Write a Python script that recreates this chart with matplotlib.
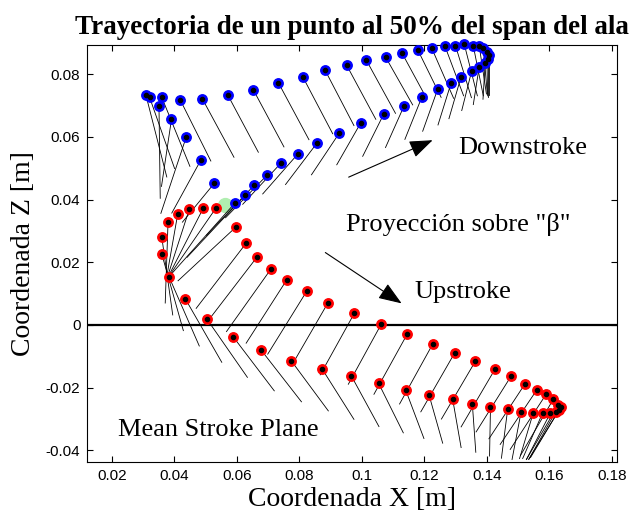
import matplotlib
matplotlib.use("Agg")
import matplotlib.pyplot as plt

# posicion del punto (borde de ataque) y extremo de la cuerda proyectada
azul_x = [0.0595, 0.0627, 0.0656, 0.0698, 0.0741, 0.0795, 0.0858, 0.0928, 0.0997, 0.1070,
          0.1136, 0.1192, 0.1243, 0.1286, 0.1318, 0.1352, 0.1376, 0.1395, 0.1405, 0.1407,
          0.1400, 0.1389, 0.1376, 0.1357, 0.1328, 0.1300, 0.1266, 0.1224, 0.1180, 0.1129,
          0.1076, 0.1015, 0.0952, 0.0883, 0.0811, 0.0733, 0.0653, 0.0571, 0.0490, 0.0419,
          0.0360, 0.0321, 0.0309, 0.0351, 0.0391, 0.0438, 0.0485, 0.0528]
azul_z = [0.0390, 0.0414, 0.0446, 0.0479, 0.0516, 0.0545, 0.0582, 0.0612, 0.0645, 0.0672,
          0.0700, 0.0726, 0.0752, 0.0772, 0.0792, 0.0811, 0.0824, 0.0835, 0.0849, 0.0861,
          0.0872, 0.0883, 0.0890, 0.0890, 0.0896, 0.0891, 0.0890, 0.0883, 0.0876, 0.0867,
          0.0855, 0.0844, 0.0828, 0.0812, 0.0792, 0.0773, 0.0750, 0.0734, 0.0721, 0.0718,
          0.0726, 0.0726, 0.0734, 0.0698, 0.0656, 0.0599, 0.0526, 0.0452]
azul_xf = [0.0383, 0.0441, 0.0503, 0.0564, 0.0619, 0.0683, 0.0756, 0.0839, 0.0920, 0.1003,
           0.1076, 0.1138, 0.1195, 0.1244, 0.1279, 0.1320, 0.1357, 0.1388, 0.1405, 0.1407,
           0.1403, 0.1402, 0.1399, 0.1389, 0.1370, 0.1351, 0.1326, 0.1294, 0.1254, 0.1209,
           0.1163, 0.1108, 0.1045, 0.0975, 0.0907, 0.0831, 0.0751, 0.0669, 0.0591, 0.0517,
           0.0450, 0.0401, 0.0376, 0.0355, 0.0359, 0.0357, 0.0392, 0.0426]
azul_zf = [0.0154, 0.0216, 0.0286, 0.0342, 0.0385, 0.0418, 0.0448, 0.0479, 0.0511, 0.0538,
           0.0566, 0.0592, 0.0618, 0.0638, 0.0658, 0.0684, 0.0703, 0.0720, 0.0727, 0.0734,
           0.0731, 0.0736, 0.0737, 0.0731, 0.0731, 0.0725, 0.0731, 0.0723, 0.0726, 0.0720,
           0.0702, 0.0675, 0.0656, 0.0636, 0.0610, 0.0591, 0.0568, 0.0551, 0.0535, 0.0523,
           0.0506, 0.0499, 0.0472, 0.0404, 0.0442, 0.0356, 0.0357, 0.0328]

rojo_x = [0.0534, 0.0493, 0.0448, 0.0411, 0.0380, 0.0360, 0.0360, 0.0383, 0.0435, 0.0505,
          0.0588, 0.0678, 0.0775, 0.0873, 0.0967, 0.1054, 0.1140, 0.1215, 0.1291, 0.1354,
          0.1412, 0.1467, 0.1510, 0.1549, 0.1579, 0.1604, 0.1621, 0.1632, 0.1637, 0.1629,
          0.1613, 0.1590, 0.1561, 0.1523, 0.1478, 0.1427, 0.1364, 0.1298, 0.1227, 0.1145,
          0.1062, 0.0976, 0.0892, 0.0824, 0.0760, 0.0709, 0.0665, 0.0630, 0.0599]
rojo_z = [0.0374, 0.0373, 0.0369, 0.0354, 0.0328, 0.0280, 0.0226, 0.0154, 0.0084, 0.0018,
          -0.0037, -0.0080, -0.0115, -0.0140, -0.0163, -0.0186, -0.0206, -0.0222, -0.0237, -0.0253,
          -0.0262, -0.0269, -0.0277, -0.0280, -0.0280, -0.0280, -0.0276, -0.0270, -0.0263, -0.0254,
          -0.0237, -0.0221, -0.0206, -0.0187, -0.0163, -0.0140, -0.0115, -0.0088, -0.0061, -0.0030,
          0.0002, 0.0037, 0.0071, 0.0108, 0.0144, 0.0178, 0.0217, 0.0261, 0.0314]
rojo_xf = [0.0383, 0.0380, 0.0377, 0.0374, 0.0371, 0.0395, 0.0429, 0.0480, 0.0552, 0.0634,
           0.0720, 0.0807, 0.0893, 0.0975, 0.1055, 0.1133, 0.1199, 0.1259, 0.1318, 0.1365,
           0.1409, 0.1447, 0.1481, 0.1505, 0.1515, 0.1527, 0.1535, 0.1540, 0.1534, 0.1527,
           0.1508, 0.1475, 0.1443, 0.1407, 0.1366, 0.1318, 0.1255, 0.1189, 0.1121, 0.1039,
           0.0957, 0.0867, 0.0777, 0.0699, 0.0630, 0.0567, 0.0510, 0.0470, 0.0412]
rojo_zf = [0.0156, 0.0153, 0.0150, 0.0144, 0.0070, 0.0032, -0.0018, -0.0067, -0.0119, -0.0167,
           -0.0210, -0.0245, -0.0274, -0.0301, -0.0324, -0.0344, -0.0362, -0.0377, -0.0391, -0.0406,
           -0.0418, -0.0425, -0.0429, -0.0426, -0.0426, -0.0429, -0.0428, -0.0423, -0.0429, -0.0429,
           -0.0416, -0.0397, -0.0381, -0.0363, -0.0341, -0.0325, -0.0300, -0.0277, -0.0252, -0.0221,
           -0.0189, -0.0159, -0.0127, -0.0093, -0.0058, -0.0021, 0.0016, 0.0053, 0.0141]

inicio_x = 0.0563
inicio_z = 0.0383

xticks = [0.02, 0.04, 0.06, 0.08, 0.1, 0.12, 0.14, 0.16, 0.18]
xtick_labels = ['0.02', '0.04', '0.06', '0.08', '0.1', '0.12', '0.14', '0.16', '0.18']
zticks = [-0.04, -0.02, 0, 0.02, 0.04, 0.06, 0.08]
ztick_labels = ['-0.04', '-0.02', '0', '0.02', '0.04', '0.06', '0.08']

serif = 'Liberation Serif'
sans = 'Liberation Sans'

fig = plt.figure(figsize=(6.41, 5.18), dpi=100)
ax = fig.add_axes([0.1364, 0.1081, 0.8262, 0.8056])

# plano medio de batida
ax.axhline(0, color='black', lw=1.6, zorder=2)

ax.plot(inicio_x, inicio_z, 'o', ms=10, color='#b0eeb0', mec='#b0eeb0', zorder=1)

for i in range(len(azul_x)):
    ax.plot([azul_x[i], azul_xf[i]], [azul_z[i], azul_zf[i]], color='black', lw=0.6, zorder=3)
for i in range(len(rojo_x)):
    ax.plot([rojo_x[i], rojo_xf[i]], [rojo_z[i], rojo_zf[i]], color='black', lw=0.6, zorder=3)

ax.plot(azul_x, azul_z, 'o', ms=6.8, color='#0000ff', mec='#0000ff', ls='none', zorder=4, clip_on=False)
ax.plot(rojo_x, rojo_z, 'o', ms=6.8, color='#ff0000', mec='#ff0000', ls='none', zorder=4, clip_on=False)
ax.plot(azul_x, azul_z, 'o', ms=3, color='black', ls='none', zorder=5, clip_on=False)
ax.plot(rojo_x, rojo_z, 'o', ms=3, color='black', ls='none', zorder=5, clip_on=False)

flecha = dict(arrowstyle='-|>,head_length=0.8,head_width=0.3', color='black', lw=0.8, mutation_scale=18)
ax.annotate('', xy=(0.1235, 0.0593), xytext=(0.0950, 0.0468), arrowprops=flecha)
ax.annotate('', xy=(0.1135, 0.0064), xytext=(0.0876, 0.0236), arrowprops=flecha)

ax.text(0.1516, 0.0565, 'Downstroke', fontsize=19, family=serif, ha='center', va='center')
ax.text(0.1308, 0.0322, 'Proyección sobre "β"', fontsize=19, family=serif, ha='center', va='center')
ax.text(0.1324, 0.0105, 'Upstroke', fontsize=19, family=serif, ha='center', va='center')
ax.text(0.0540, -0.0335, 'Mean Stroke Plane', fontsize=19, family=serif, ha='center', va='center')

ax.set_xlim(0.0122, 0.1817)
ax.set_ylim(-0.0437, 0.0894)
ax.set_xticks(xticks)
ax.set_xticklabels(xtick_labels, family=sans, fontsize=11)
ax.set_yticks(zticks)
ax.set_yticklabels(ztick_labels, family=sans, fontsize=11)
ax.tick_params(direction='in', length=4, width=0.8, top=True, right=True, pad=5)
for s in ax.spines.values():
    s.set_linewidth(0.8)

ax.set_title('Trayectoria de un punto al 50% del span del ala', fontsize=19.5,
             fontweight='bold', family=serif, pad=8)
ax.set_xlabel('Coordenada X [m]', fontsize=20, family=serif, labelpad=3)
ax.set_ylabel('Coordenada Z [m]', fontsize=20, family=serif, labelpad=7)

fig.savefig('out.png', dpi=100)
